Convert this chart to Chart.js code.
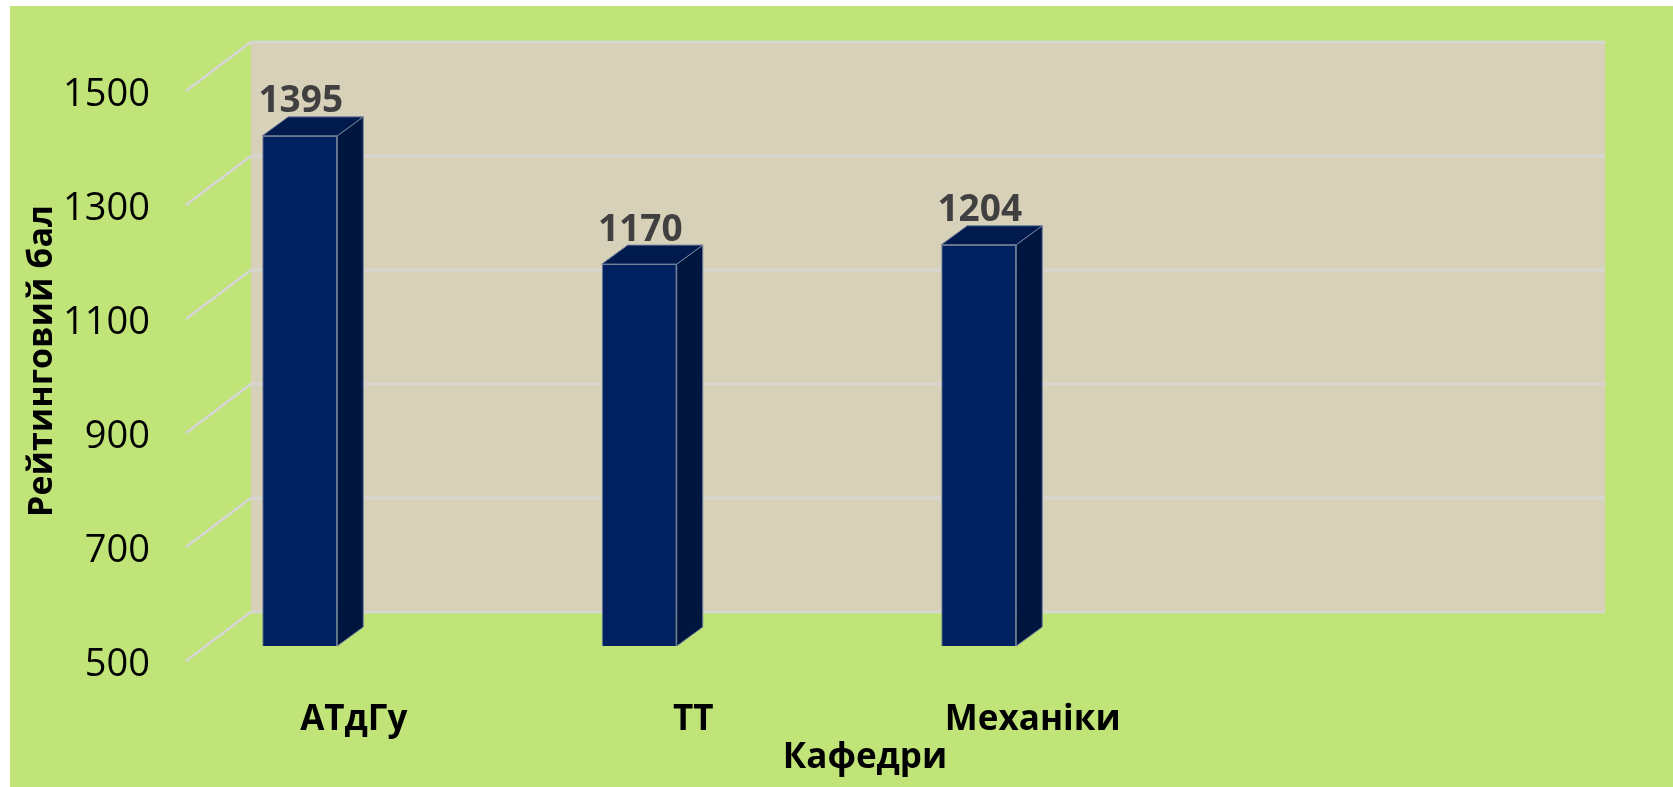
<!DOCTYPE html>
<html><head><meta charset="utf-8">
<script src="https://cdn.jsdelivr.net/npm/chart.js@4.4.0/dist/chart.umd.min.js"></script>
<style>html,body{margin:0;padding:0;background:#fff;overflow:hidden}canvas{display:block}</style>
</head><body>
<canvas id="c" width="1673" height="787"></canvas>
<script>
// ---- data ----
const categories = ['АТдГу', 'ТТ', 'Механіки', ''];
const ratingValues = [1395, 1170, 1204, null];
const yMin = 500, yMax = 1500, yStep = 200;
const yAxisTitle = 'Рейтинговий бал';
const xAxisTitle = 'Кафедри';

// ---- 3D look (styling only) ----
const FONT = "'Open Sans', 'Noto Sans', sans-serif";
const DEPTH = {dx: 26, dy: -19};            // bar depth offset
const WALL = {dxL: 121, dxR: 117, dy: -34}; // back wall relative to the bar-front plane
const FLOOR = {dx: -65, dy: 49};            // diagonal from wall to front edge

const scene3d = {
  id: 'scene3d',
  beforeDraw(chart) {
    const ctx = chart.ctx;
    ctx.save();
    ctx.fillStyle = '#ffffff';
    ctx.fillRect(0, 0, chart.width, chart.height);
    ctx.fillStyle = '#C1E478';
    ctx.fillRect(10, 6, chart.width - 10, chart.height - 6);
    ctx.restore();
  },
  beforeDatasetsDraw(chart) {
    const {ctx, chartArea: a, scales: {y}} = chart;
    const L = a.left + WALL.dxL, R = a.right + WALL.dxR;
    const T = y.getPixelForValue(y.max) + WALL.dy;
    const B = y.getPixelForValue(y.min) + WALL.dy;
    ctx.save();
    ctx.fillStyle = '#D8D1BA';
    ctx.fillRect(L, T, R - L, B - T);
    ctx.strokeStyle = '#D6D6D6';
    ctx.lineWidth = 2.5;
    y.ticks.forEach(t => {
      const gy = y.getPixelForValue(t.value) + WALL.dy;
      ctx.beginPath();
      ctx.moveTo(L + FLOOR.dx, gy + FLOOR.dy);
      ctx.lineTo(L, gy);
      ctx.lineTo(R, gy);
      ctx.stroke();
    });
    ctx.restore();
  },
  afterDatasetsDraw(chart) {
    const ctx = chart.ctx;
    const meta = chart.getDatasetMeta(0);
    ctx.save();
    meta.data.forEach((bar, i) => {
      if (ratingValues[i] == null) return;
      const {x, y, base, width} = bar.getProps(['x', 'y', 'base', 'width'], true);
      const l = x - width / 2, r = x + width / 2;
      ctx.lineWidth = 1;
      ctx.strokeStyle = '#6F7F9C';
      // side face
      ctx.fillStyle = '#00163F';
      ctx.beginPath();
      ctx.moveTo(r, y); ctx.lineTo(r + DEPTH.dx, y + DEPTH.dy);
      ctx.lineTo(r + DEPTH.dx, base + DEPTH.dy); ctx.lineTo(r, base);
      ctx.closePath(); ctx.fill(); ctx.stroke();
      // top face
      ctx.fillStyle = '#001A4D';
      ctx.beginPath();
      ctx.moveTo(l, y); ctx.lineTo(l + DEPTH.dx, y + DEPTH.dy);
      ctx.lineTo(r + DEPTH.dx, y + DEPTH.dy); ctx.lineTo(r, y);
      ctx.closePath(); ctx.fill(); ctx.stroke();
      // value label
      ctx.fillStyle = '#404040';
      ctx.font = "bold 37px " + FONT;
      ctx.textAlign = 'center';
      ctx.textBaseline = 'middle';
      ctx.fillText(String(ratingValues[i]), x + 1, y - 34);
    });
    ctx.restore();
  },
  afterDraw(chart) {
    // x-axis title, placed under the label row (offset right like the original)
    const {ctx, chartArea: a} = chart;
    ctx.save();
    ctx.fillStyle = '#000';
    ctx.font = "bold 35px " + FONT;
    ctx.textAlign = 'center';
    ctx.textBaseline = 'middle';
    ctx.fillText(xAxisTitle, (a.left + a.right) / 2 + 56, a.bottom + 112);
    ctx.restore();
  }
};

new Chart(document.getElementById('c'), {
  type: 'bar',
  data: {
    labels: categories,
    datasets: [{
      data: ratingValues,
      base: yMin,
      backgroundColor: '#002060',
      borderColor: '#6F7F9C',
      borderWidth: 1,
      categoryPercentage: 1,
      barPercentage: 0.221
    }]
  },
  options: {
    responsive: false,
    devicePixelRatio: 1,
    animation: false,
    layout: {padding: {left: 10, right: 185, top: 76, bottom: 0}},
    plugins: {legend: {display: false}, tooltip: {enabled: false}},
    scales: {
      x: {
        grid: {display: false, drawTicks: false},
        border: {display: false},
        ticks: {
          color: '#000', labelOffset: 54, padding: 53, maxRotation: 0, autoSkip: false,
          font: {family: FONT, size: 35, weight: 'bold'}
        },
        afterFit(s) { s.height = 141; }
      },
      y: {
        min: yMin, max: yMax,
        grid: {display: false, drawTicks: false},
        border: {display: false},
        ticks: {
          stepSize: yStep, color: '#000', mirror: true, crossAlign: 'far',
          padding: -67, labelOffset: 19,
          font: {family: FONT, size: 38},
          callback: v => String(v)
        },
        title: {
          display: true, text: yAxisTitle, color: '#000',
          font: {family: FONT, size: 34, weight: 'bold'},
          padding: {top: 12, bottom: 0}
        },
        afterFit(s) { s.width = 120; }
      }
    }
  },
  plugins: [scene3d]
});
</script>
</body></html>
